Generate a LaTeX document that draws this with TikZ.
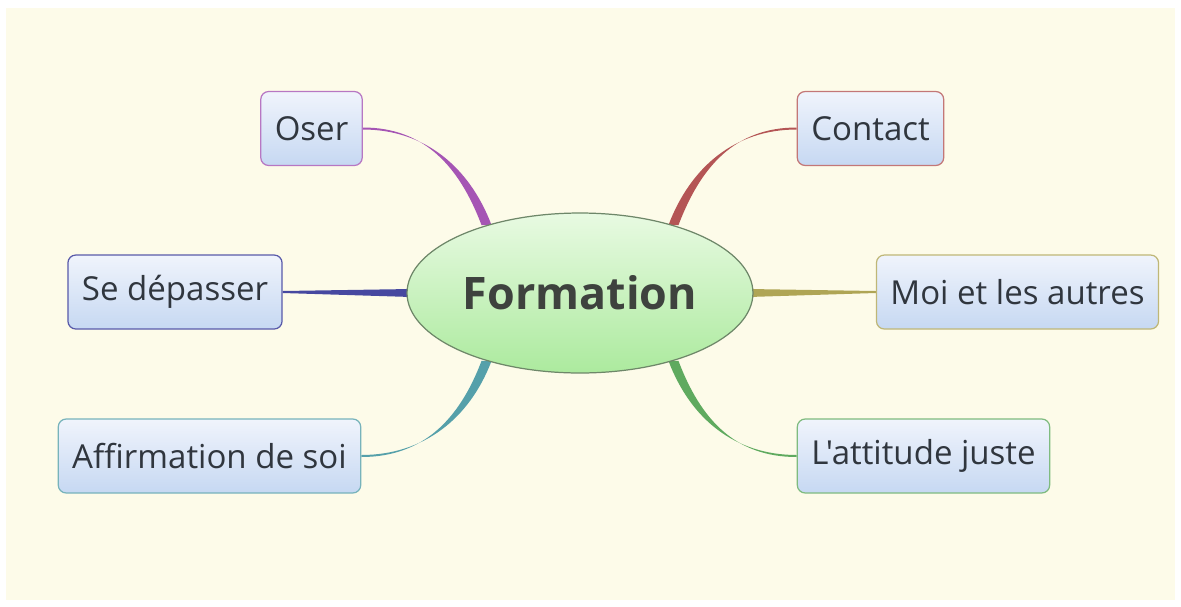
\documentclass[tikz,border=0pt]{standalone}
\usepackage{fontspec}
\setmainfont[Ligatures=TeXOff]{Open Sans}
\usetikzlibrary{shapes.geometric,calc,backgrounds}

\definecolor{paper}{RGB}{253,251,233}
\definecolor{boxtop}{RGB}{240,244,252}
\definecolor{boxbot}{RGB}{198,216,242}
\definecolor{txt}{RGB}{48,54,62}
\definecolor{oserc}{RGB}{165,85,180}
\definecolor{contactc}{RGB}{180,85,85}
\definecolor{depasc}{RGB}{70,72,160}
\definecolor{moic}{RGB}{175,165,85}
\definecolor{affc}{RGB}{85,160,170}
\definecolor{attc}{RGB}{95,170,95}

\begin{document}
\begin{tikzpicture}[x=0.02cm,y=-0.02cm]
			\tikzstyle{topic}=[draw, line width=0.7pt, rounded corners=4.5pt, top color=boxtop, bottom color=boxbot,
				minimum height=1.48cm, inner xsep=0.28cm, text=txt, font=\fontsize{18.8}{22}\selectfont]
			\tikzstyle{central}=[draw={rgb,255:red,110;green,135;blue,105}, line width=0.7pt, ellipse, inner sep=0pt,
				minimum width=6.92cm, minimum height=3.2cm, top color={rgb,255:red,232;green,250;blue,226},
				bottom color={rgb,255:red,172;green,234;blue,158}, text={rgb,255:red,62;green,66;blue,62},
				font=\fontsize{25.5}{30}\selectfont\bfseries]

			\useasboundingbox (0,0) rectangle (1181,606);

			\node (F) at (580,293) [central] {Formation};

			\node (oser) at (311.5,128.5) [topic, draw=oserc!80] {Oser};
			\node (contact) at (870.5,128.5) [topic, draw=contactc!80] {Contact};
			\node (depasser) at (175,292) [topic, draw=depasc!90] {Se dépasser};
			\node (moi) at (1017.5,292) [topic, draw=moic!80] {Moi et les autres};
			\node (affirm) at (209.5,456) [topic, draw=affc!80] {Affirmation de soi};
			\node (attitude) at (923.5,456) [topic, draw=attc!80] {L'attitude juste};

			\begin{pgfonlayer}{background}
			\fill[white] (0,0) rectangle (1181,606);
			\fill[paper] (6,8) rectangle (1175,600);

			% curved branches, thick at the centre, thin at the topic
			\fill[oserc] ($(F.144)+(-5,0)$) .. controls +(-22,-58) and +(62,0) .. ($(oser.east)+(0,-1)$)
				-- ($(oser.east)+(0,1)$) .. controls +(62,0) and +(-22,-58) .. ($(F.144)+(5,0)$) -- cycle;
			\fill[contactc] ($(F.36)+(5,0)$) .. controls +(22,-58) and +(-62,0) .. ($(contact.west)+(0,-1)$)
				-- ($(contact.west)+(0,1)$) .. controls +(-62,0) and +(22,-58) .. ($(F.36)+(-5,0)$) -- cycle;
			\fill[affc] ($(F.216)+(-5,0)$) .. controls +(-22,58) and +(62,0) .. ($(affirm.east)+(0,1)$)
				-- ($(affirm.east)+(0,-1)$) .. controls +(62,0) and +(-22,58) .. ($(F.216)+(5,0)$) -- cycle;
			\fill[attc] ($(F.324)+(5,0)$) .. controls +(22,58) and +(-62,0) .. ($(attitude.west)+(0,1)$)
				-- ($(attitude.west)+(0,-1)$) .. controls +(-62,0) and +(22,58) .. ($(F.324)+(-5,0)$) -- cycle;

			% straight branches
			\fill[depasc] ($(F.180)+(5,-4)$) -- ($(depasser.east)+(0,-1)$) -- ($(depasser.east)+(0,1)$)
				-- ($(F.180)+(5,4)$) -- cycle;
			\fill[moic] ($(F.0)+(-5,-4)$) -- ($(moi.west)+(0,-1)$) -- ($(moi.west)+(0,1)$)
				-- ($(F.0)+(-5,4)$) -- cycle;
			\end{pgfonlayer}
		\end{tikzpicture}
\end{document}
